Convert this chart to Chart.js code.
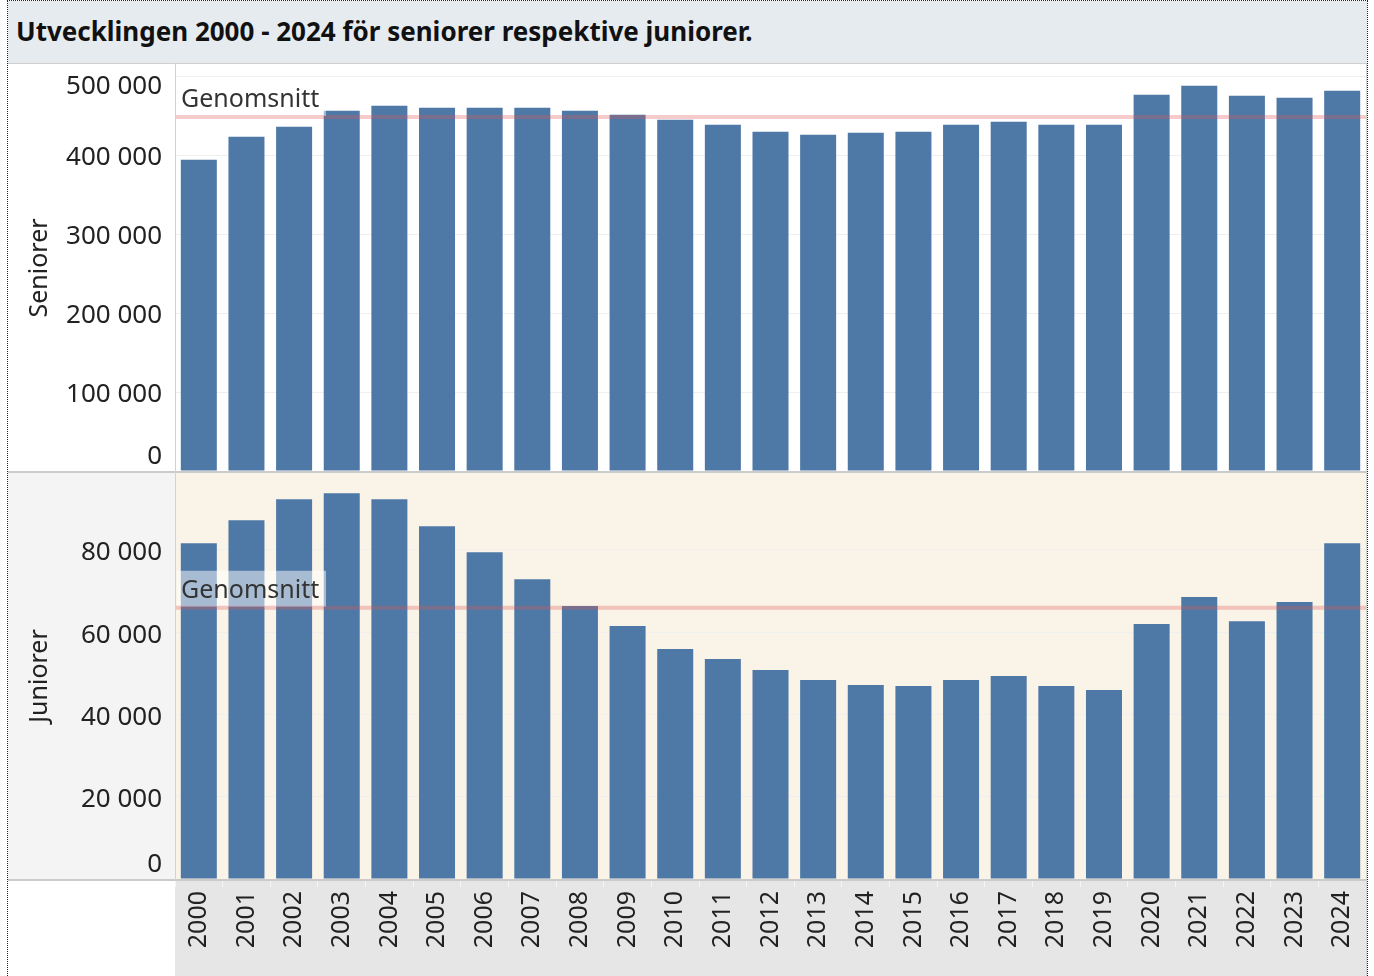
<!DOCTYPE html>
<html>
<head>
<meta charset="utf-8">
<script src="https://cdn.jsdelivr.net/npm/chart.js@4"></script>
<style>
  html, body { margin: 0; padding: 0; background: #ffffff; overflow: hidden; }
  body { width: 1374px; height: 976px; position: relative; font-family: "Noto Sans", sans-serif; }
  .abs { position: absolute; }
  #frame { left: 7px; top: 0px; width: 1361px; height: 1000px; box-sizing: border-box; border: 1px dotted #222; z-index: 5; pointer-events: none; }
  #titleband { left: 8px; top: 1px; width: 1359px; height: 62px; background: #e6ebf0; }
  #title { left: 16px; top: 14px; font-size: 26px; font-weight: bold; color: #111; line-height: 34px; white-space: nowrap; }
  .hline { background: #cfcfcf; z-index: 4; }
  .vline { background: #d2d2d2; z-index: 4; }
  #topWrap { left: 8px; top: 64px; width: 1359px; height: 408px; }
  #botWrap { left: 8px; top: 473px; width: 1359px; height: 503px; }
</style>
</head>
<body>
<div id="frame" class="abs"></div>
<div id="titleband" class="abs"></div>
<div id="title" class="abs">Utvecklingen 2000 - 2024 för seniorer respektive juniorer.</div>
<div class="abs" id="topWrap"><canvas id="topChart"></canvas></div>
<div class="abs" id="botWrap"><canvas id="botChart"></canvas></div>
<div class="abs hline" style="left:8px;top:63px;width:1359px;height:1px;"></div>
<div class="abs hline" style="left:8px;top:471px;width:1359px;height:2px;background:#cbcbcb;"></div>
<div class="abs hline" style="left:8px;top:879px;width:1359px;height:2px;background:#cbcbcb;"></div>
<div class="abs vline" style="left:175px;top:63px;width:1px;height:817px;"></div>
<div class="abs vline" style="left:1366px;top:63px;width:1px;height:913px;"></div>
<script>
// ---- data ----
const years = ['2000','2001','2002','2003','2004','2005','2006','2007','2008','2009','2010','2011','2012','2013','2014','2015','2016','2017','2018','2019','2020','2021','2022','2023','2024'];
const seniorer = [394000, 423200, 435800, 456100, 462400, 459900, 459900, 459900, 456100, 451000, 444700, 438300, 429500, 425700, 428200, 429500, 438300, 442100, 438300, 438300, 476300, 487700, 475000, 472500, 481400];
const juniorer = [81650, 87240, 92340, 93800, 92340, 85780, 79460, 72900, 66340, 61480, 55890, 53460, 50790, 48360, 47140, 46900, 48360, 49330, 46900, 45930, 61970, 68530, 62690, 67310, 81650];
const seniorTicks = [0, 100000, 200000, 300000, 400000, 500000];
const juniorTicks = [0, 20000, 40000, 60000, 80000];
const seniorMax = 514000;
const juniorMax = 98700;
const seniorTitle = 'Seniorer';
const juniorTitle = 'Juniorer';
const avgLabel = 'Genomsnitt';

const FONT = '"Noto Sans", sans-serif';
const BAR = '#4e79a7';

function fmt(v) { return String(v).replace(/\B(?=(\d{3})+(?!\d))/g, ' '); }

function panelPlugin(id, values, tickVals, axisTitle, plotBg, leftBg, xArea) {
  const mean = values.reduce((a, b) => a + b, 0) / values.length;
  return {
    id: id,
    beforeDraw(chart) {
      const { ctx, chartArea: a, width, height } = chart;
      ctx.save();
      ctx.fillStyle = leftBg;
      ctx.fillRect(0, 0, a.left, a.bottom);
      ctx.fillStyle = plotBg;
      ctx.fillRect(a.left, 0, a.right - a.left, a.bottom);
      if (xArea) {
        ctx.fillStyle = '#e6e6e6';
        ctx.fillRect(a.left, a.bottom, a.right - a.left, height - a.bottom);
      }
      ctx.restore();
    },
    afterDatasetsDraw(chart) {
      const { ctx, chartArea: a } = chart;
      const y = chart.scales.y.getPixelForValue(mean);
      ctx.save();
      ctx.fillStyle = 'rgba(255,255,255,0.5)';
      ctx.fillRect(a.left + 2, y - 37, 149, 36);
      ctx.fillStyle = '#333333';
      ctx.font = '25px ' + FONT;
      ctx.textAlign = 'left';
      ctx.textBaseline = 'alphabetic';
      ctx.fillText(avgLabel, a.left + 6, y - 10);
      ctx.strokeStyle = 'rgba(222,88,88,0.31)';
      ctx.lineWidth = 4;
      ctx.beginPath();
      ctx.moveTo(a.left, y);
      ctx.lineTo(a.right, y);
      ctx.stroke();
      ctx.restore();
    },
    afterDraw(chart) {
      const { ctx, chartArea: a } = chart;
      const ys = chart.scales.y;
      ctx.save();
      ctx.fillStyle = '#222222';
      ctx.font = '26px ' + FONT;
      ctx.textAlign = 'right';
      ctx.textBaseline = 'middle';
      tickVals.forEach(v => {
        let y = ys.getPixelForValue(v);
        y = Math.max(a.top + 19, Math.min(a.bottom - 17, y)) + 3;
        ctx.fillText(fmt(v), a.left - 13, y);
      });
      ctx.translate(32, (a.top + a.bottom) / 2);
      ctx.rotate(-Math.PI / 2);
      ctx.textAlign = 'center';
      ctx.font = '25px ' + FONT;
      ctx.fillText(axisTitle, 0, 0);
      ctx.restore();
    }
  };
}

function makeChart(canvasId, values, tickVals, maxV, axisTitle, plotBg, leftBg, showX) {
  return new Chart(document.getElementById(canvasId), {
    type: 'bar',
    data: {
      labels: years,
      datasets: [{ data: values, backgroundColor: BAR, barPercentage: 0.756, categoryPercentage: 1.0 }]
    },
    options: {
      responsive: true,
      maintainAspectRatio: false,
      animation: false,
      events: [],
      layout: { padding: { top: showX ? 0 : 1, right: 1, bottom: showX ? 0 : 1, left: 0 } },
      plugins: { legend: { display: false }, tooltip: { enabled: false } },
      scales: {
        x: {
          display: showX,
          offset: true,
          grid: { display: true, drawOnChartArea: false, drawTicks: true, tickLength: 8, color: '#f6f6f6', offset: true },
          border: { display: false },
          ticks: {
            autoSkip: false, maxRotation: 90, minRotation: 90, padding: 4,
            color: '#222222', font: { family: FONT, size: 25 }
          },
          afterFit(scale) {
            if (showX) { scale.height = 97; }
            scale.paddingLeft = 0; scale.paddingRight = 0;
          }
        },
        y: {
          min: 0, max: maxV,
          afterBuildTicks(scale) { scale.ticks = tickVals.map(v => ({ value: v })); },
          ticks: { display: false },
          grid: { color: '#efefef', lineWidth: 1, drawTicks: false },
          border: { display: false },
          afterFit(scale) { scale.width = 167; scale.paddingTop = 0; scale.paddingBottom = 0; }
        }
      }
    },
    plugins: [panelPlugin('p_' + canvasId, values, tickVals, axisTitle, plotBg, leftBg, showX)]
  });
}

makeChart('topChart', seniorer, seniorTicks, seniorMax, seniorTitle, '#ffffff', '#ffffff', false);
makeChart('botChart', juniorer, juniorTicks, juniorMax, juniorTitle, '#faf3e7', '#f4f4f4', true);
</script>
</body>
</html>
